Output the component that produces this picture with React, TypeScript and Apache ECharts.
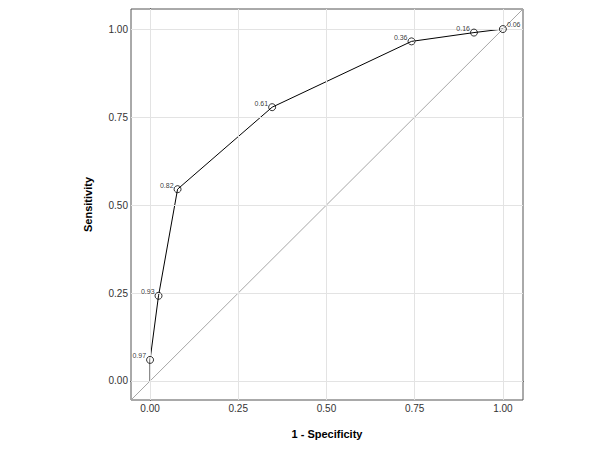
import React, { useEffect, useRef } from "react";
import * as echarts from "echarts";

const fpr = [0, 0, 0.024, 0.078, 0.346, 0.741, 0.918, 1.0];
const tpr = [0, 0.06, 0.242, 0.545, 0.778, 0.965, 0.99, 1.0];
const thresholds = ["", "0.97", "0.93", "0.82", "0.61", "0.36", "0.16", "0.06"];
const tickValues = [0, 0.25, 0.5, 0.75, 1.0];
const axisMin = -0.054;
const axisMax = 1.057;

export default function App() {
  const ref = useRef<HTMLDivElement>(null);
  useEffect(() => {
    if (!ref.current) return;
    const chart = echarts.init(ref.current, undefined, { renderer: "svg" });
    const font = "'Liberation Sans', Arial, sans-serif";
    const linePts = fpr.map((x, i) => [x, tpr[i]]);
    const pts = fpr
      .map((x, i) => ({ value: [x, tpr[i]], name: thresholds[i] }))
      .filter((d) => d.name !== "");
    const gridMarks = [
      ...tickValues.map((v) => ({ xAxis: v })),
      ...tickValues.map((v) => ({ yAxis: v })),
    ];
    const labelBase = { fontFamily: font, fontSize: 7, color: "#000" };
    const axisCommon = (name: string, gap: number) => ({
      type: "value",
      min: axisMin,
      max: axisMax,
      name,
      nameLocation: "middle",
      nameGap: gap,
      nameTextStyle: { fontFamily: font, fontSize: 11, fontWeight: "bold", color: "#000" },
      axisLine: { show: true, lineStyle: { color: "#000", width: 1 } },
      axisTick: { show: true, length: 4, customValues: tickValues, lineStyle: { color: "#333" } },
      axisLabel: {
        customValues: tickValues,
        fontFamily: font,
        fontSize: 10,
        color: "#333",
        margin: 3,
        formatter: (v: number) => v.toFixed(2),
      },
      splitLine: { show: false },
    });
    chart.setOption({
      animation: false,
      backgroundColor: "#fff",
      grid: {
        left: 131,
        top: 9,
        width: 392,
        height: 391,
        show: true,
        borderColor: "#555",
        borderWidth: 1,
        backgroundColor: "transparent",
      },
      xAxis: axisCommon("1 - Specificity", 28),
      yAxis: axisCommon("Sensitivity", 38),
      series: [
        {
          type: "line",
          data: [],
          silent: true,
          markLine: {
            silent: true,
            symbol: "none",
            label: { show: false },
            lineStyle: { color: "#e3e3e3", width: 1, type: "solid" },
            data: gridMarks,
          },
        },
        {
          type: "line",
          data: [
            [axisMin, axisMin],
            [axisMax, axisMax],
          ],
          showSymbol: false,
          lineStyle: { color: "#a6a6a6", width: 1 },
          silent: true,
        },
        {
          type: "line",
          data: linePts,
          showSymbol: false,
          lineStyle: { color: "#000", width: 1 },
          silent: true,
          z: 4,
        },
        {
          type: "scatter",
          data: pts.map((d) => ({
            value: d.value,
            name: d.name,
            label:
              d.name === "0.06"
                ? { ...labelBase, show: true, position: "right", distance: 0, offset: [0, -5] }
                : { ...labelBase, show: true, position: "left", distance: 0, offset: [0, -4] },
          })),
          symbol: "circle",
          symbolSize: 7,
          itemStyle: { color: "rgba(255,255,255,0)", borderColor: "#000", borderWidth: 1 },
          label: {
            ...labelBase,
            show: true,
            formatter: (p: any) => p.name,
          },
          silent: true,
          z: 5,
        },
      ],
    });
    return () => chart.dispose();
  }, []);
  return (
    <div
      ref={ref}
      style={{ position: "fixed", left: 0, top: 0, width: 600, height: 450 }}
    />
  );
}
